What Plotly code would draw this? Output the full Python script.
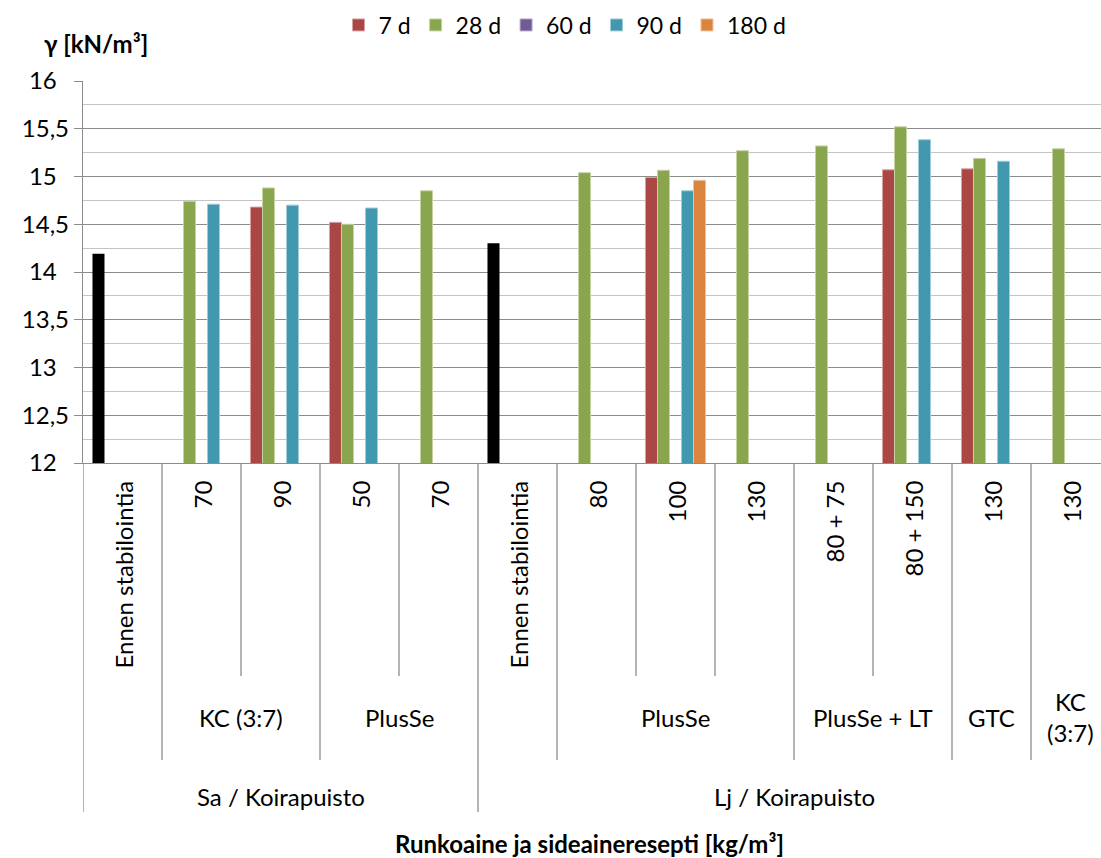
import plotly.graph_objects as go

# ---------------- data ----------------
level1 = ["Ennen stabilointia", "70", "90", "50", "70",
          "Ennen stabilointia", "80", "100", "130", "80 + 75", "80 + 150", "130", "130"]
level2 = ["", "KC (3:7)", "KC (3:7)", "PlusSe", "PlusSe",
          "", "PlusSe", "PlusSe", "PlusSe", "PlusSe + LT", "PlusSe + LT", "GTC", "KC (3:7)"]
level3 = ["Sa / Koirapuisto"] * 5 + ["Lj / Koirapuisto"] * 8

before = [14.19, None, None, None, None, 14.30, None, None, None, None, None, None, None]
d7 = [None, None, 14.68, 14.52, None, None, None, 14.99, None, None, 15.07, 15.08, None]
d28 = [None, 14.74, 14.88, 14.50, 14.85, None, 15.04, 15.065, 15.27, 15.32, 15.52, 15.19, 15.29]
d60 = [None] * 13
d90 = [None, 14.71, 14.70, 14.67, None, None, None, 14.85, None, None, 15.385, 15.16, None]
d180 = [None, None, None, None, None, None, None, 14.96, None, None, None, None, None]

series_names = ["7 d", "28 d", "60 d", "90 d", "180 d"]
series_values = [d7, d28, d60, d90, d180]
series_colors = ["#AA4643", "#89A54E", "#715A95", "#4198AF", "#DB843D"]
series_edges = ["#D9A2A1", "#C4D2A6", "#B8ACCA", "#A0CBD7", "#EDC19E"]

y_ticks = [12, 12.5, 13, 13.5, 14, 14.5, 15, 15.5, 16]

FONT = "Lato"
GRAY = "#8C8C8C"

# ---------------- figure ----------------
n = len(level1)
xs = list(range(n))
fig = go.Figure()
for name, vals, col, edge in zip(series_names, series_values, series_colors, series_edges):
    fig.add_trace(go.Bar(x=xs, y=vals, name=name, offsetgroup=name,
                         marker=dict(color=col, line=dict(color=edge, width=1))))
fig.add_trace(go.Bar(x=xs, y=before, name="Ennen", offsetgroup=series_names[0],
                     showlegend=False, marker=dict(color="#000000", line=dict(width=0))))

def fmt(v):
    if float(v).is_integer():
        return "%d\u00a0\u00a0" % v
    return ("%.1f" % v).replace(".", ",")

# plot-area geometry (pixels)
W, H = 1101, 858
L, T, B = 83, 81, 463
cat_px = 79.0
span = (W - L) / cat_px

def py(Y):
    return (B - Y) / (B - T)

lvl1_bottom = py(676)
lvl2_bottom = py(760)
lvl3_bottom = py(812)

shapes = []
for i in range(n):
    if i == 0 or level3[i] != level3[i - 1]:
        y1 = lvl3_bottom
    elif level2[i] != level2[i - 1] or level2[i] == "" or level2[i - 1] == "":
        y1 = lvl2_bottom
    else:
        y1 = lvl1_bottom
    shapes.append(dict(type="line", xref="x", yref="paper", x0=i - 0.5, x1=i - 0.5,
                       y0=0, y1=y1, line=dict(color=GRAY, width=1.3)))

annotations = []
for i, lab in enumerate(level1):
    annotations.append(dict(xref="x", yref="paper", x=i, y=py(479), text=lab,
                            textangle=-90, xanchor="center", yanchor="top",
                            showarrow=False, font=dict(family=FONT, size=24, color="#000")))

def groups(levels):
    out = []
    start = 0
    for i in range(1, n + 1):
        if i == n or levels[i] != levels[start]:
            out.append((levels[start], start, i - 1))
            start = i
    return out

for lab, s, e in groups(level2):
    if not lab:
        continue
    text = lab.replace(" ", "<br>") if s == e and len(lab) > 5 else lab
    annotations.append(dict(xref="x", yref="paper", x=(s + e) / 2, y=py(717), text=text,
                            xanchor="center", yanchor="middle", showarrow=False,
                            font=dict(family=FONT, size=24, color="#000")))
for lab, s, e in groups(level3):
    annotations.append(dict(xref="x", yref="paper", x=(s + e) / 2, y=py(796), text=lab,
                            xanchor="center", yanchor="middle", showarrow=False,
                            font=dict(family=FONT, size=24, color="#000")))

annotations.append(dict(xref="paper", yref="paper", x=(589 - L) / (W - L), y=py(843),
                        text="<b>Runkoaine ja sideaineresepti [kg/m³]</b>",
                        xanchor="center", yanchor="middle", showarrow=False,
                        font=dict(family=FONT, size=24, color="#000")))
annotations.append(dict(xref="paper", yref="paper", x=(42 - L) / (W - L), y=py(43),
                        text="<b>γ [kN/m³]</b>", xanchor="left", yanchor="middle",
                        showarrow=False, font=dict(family=FONT, size=24, color="#000")))

fig.update_layout(
    width=W, height=H,
    margin=dict(l=L, r=0, t=T, b=H - B, pad=0),
    plot_bgcolor="white", paper_bgcolor="white",
    barmode="group", bargap=0.24, bargroupgap=0,
    font=dict(family=FONT, size=24, color="#000"),
    legend=dict(orientation="h", x=(565 - L) / (W - L), xanchor="center",
                y=py(25), yanchor="middle", font=dict(family=FONT, size=23),
                bgcolor="rgba(0,0,0,0)"),
    shapes=shapes, annotations=annotations,
    xaxis=dict(range=[-0.5, -0.5 + span], showticklabels=False, ticks="",
               showgrid=False, zeroline=False, showline=True, linecolor=GRAY, linewidth=1.3),
    yaxis=dict(range=[12, 16], tickvals=y_ticks, ticktext=[fmt(v) for v in y_ticks],
               ticks="outside", ticklen=8, tickcolor=GRAY, tickwidth=1.3,
               showline=True, linecolor=GRAY, linewidth=1.3,
               showgrid=True, gridcolor=GRAY, gridwidth=1.3, zeroline=False,
               tickfont=dict(family=FONT, size=24, color="#000"),
               minor=dict(dtick=0.25, showgrid=True, gridcolor="#C4C4C4", gridwidth=1.3)),
)

fig.write_html("out.html", config={"displayModeBar": False},
               post_script="document.body.style.margin='0';document.body.style.overflow='hidden';")
